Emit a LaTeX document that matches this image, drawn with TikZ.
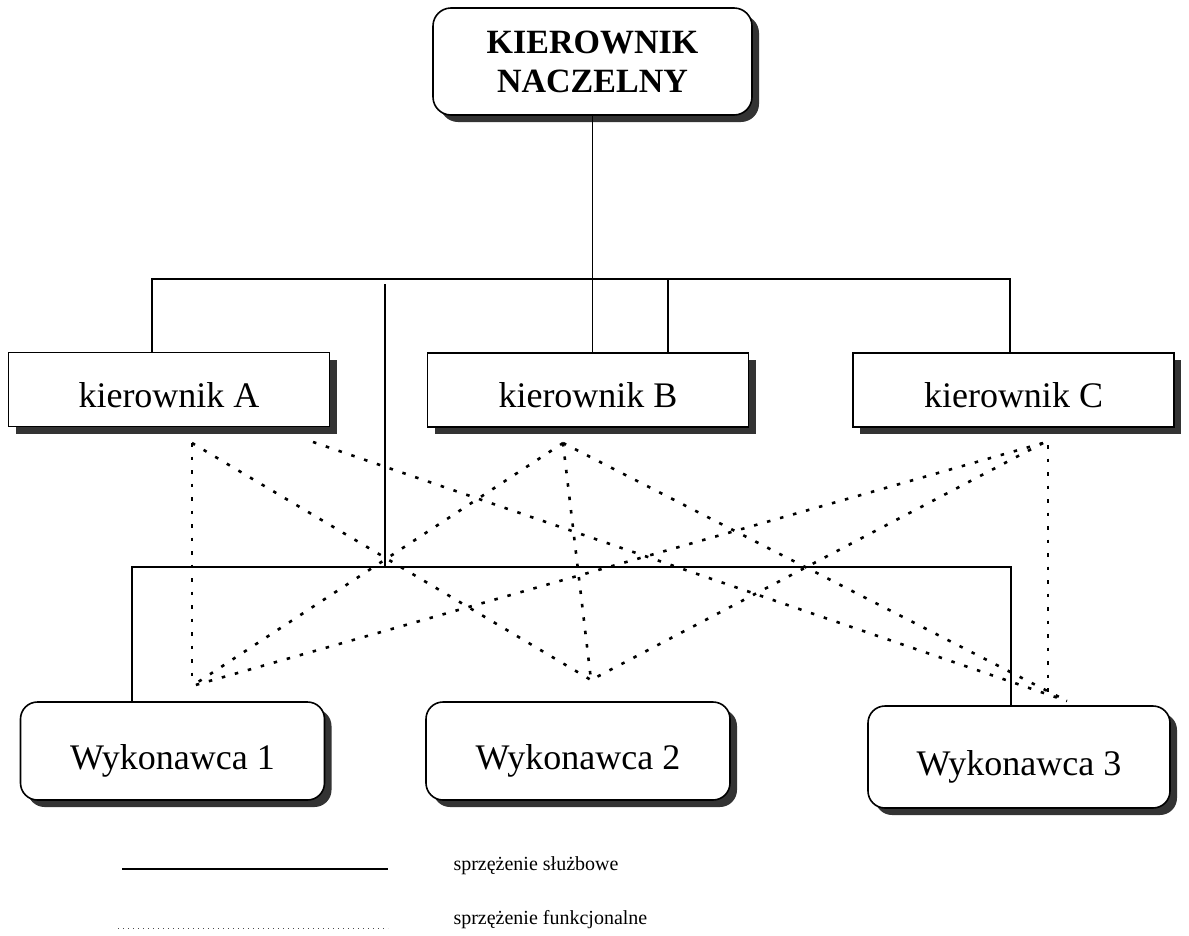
\documentclass[tikz,border=0pt]{standalone}
\usepackage{fontspec}
\setmainfont{Liberation Serif}
\usetikzlibrary{shadows}
\begin{document}
\begin{tikzpicture}[x=1pt,y=-1pt,
  shade/.style={drop shadow={shadow xshift=7pt,shadow yshift=-7pt,fill=black!80,opacity=1}},
  headbox/.style={draw,line width=1.6pt,fill=white,rounded corners=18pt,shade,
    minimum width=319pt,minimum height=107pt,align=center,
    font=\fontsize{34}{39}\selectfont\bfseries},
  midbox/.style={draw,line width=1.6pt,fill=white,shade,
    minimum width=321pt,minimum height=74pt,inner sep=0pt,
    text height=35pt,text depth=0pt,font=\fontsize{36}{40}\selectfont},
  workbox/.style={draw,line width=1.6pt,fill=white,rounded corners=17pt,shade,
    minimum width=304pt,minimum height=98pt,inner sep=0pt,
    text height=36pt,text depth=0pt,font=\fontsize{36}{40}\selectfont},
  service/.style={line width=1.3pt},
  funct/.style={line width=2.6pt,dash pattern=on 3.5pt off 10pt},
  legtext/.style={anchor=west,font=\fontsize{20}{24}\selectfont}]
\useasboundingbox (0,0) rectangle (1189,935);

% boxes
\node[headbox] (N) at (592.5,61.5) {KIEROWNIK\\NACZELNY};
\node[midbox] (A) at (169,389.5) {kierownik A};
\node[midbox] (B) at (588,390) {kierownik B};
\node[midbox] (C) at (1013.5,390) {kierownik C};
\node[workbox] (W1) at (172.5,751) {Wykonawca 1};
\node[workbox] (W2) at (578,751) {Wykonawca 2};
\node[workbox,minimum width=302pt,minimum height=102pt] (W3) at (1019,757) {Wykonawca 3};

% line-management buses
\coordinate (tl) at (152,279);
\coordinate (tr) at (1010,279);
\coordinate (tb) at (668,279);
\coordinate (tn) at (592.5,279);
\coordinate (vm) at (385,284);
\coordinate (bl) at (132,567);
\coordinate (br) at (1011,567);

\draw[service] (N.south) -- (tn |- B.north);
\draw[service] (tl |- A.north) -- (tl) -- (tr) -- (tr |- C.north);
\draw[service] (tb) -- (tb |- B.north);
\draw[service] (vm) -- (vm |- bl);
\draw[service] (bl |- W1.north) -- (bl) -- (br) -- (br |- W3.north);

% functional links
\coordinate (pa1) at (192,443);
\coordinate (pa2) at (313,442);
\coordinate (pb) at (563,443);
\coordinate (pc) at (1043,443);
\coordinate (pcv) at (1048,445);
\coordinate (q1) at (192,686);
\coordinate (q2) at (591,680);
\coordinate (q3) at (1067,701);
\coordinate (q3v) at (1048,698);

\draw[funct] (pa1) -- (q1);
\draw[funct] (pa1) -- (q2);
\draw[funct] (pa2) -- (q3);
\draw[funct] (pb) -- (q1);
\draw[funct] (pb) -- (q2);
\draw[funct] (pb) -- (q3);
\draw[funct] (pc) -- (q1);
\draw[funct] (pc) -- (q2);
\draw[funct] (pcv) -- (q3v);

% legend
\coordinate (la) at (122,869);
\coordinate (lb) at (388,869);
\coordinate (lc) at (118,928);
\coordinate (ld) at (388,928);
\draw[line width=1.5pt] (la) -- (lb);
\draw[line width=1pt,black!70,dash pattern=on 1pt off 4pt] (lc) -- (ld);
\node[legtext] (l1) at (450,866) {sprzężenie służbowe};
\node[legtext] (l2) at (450,920) {sprzężenie funkcjonalne};
\end{tikzpicture}
\end{document}
